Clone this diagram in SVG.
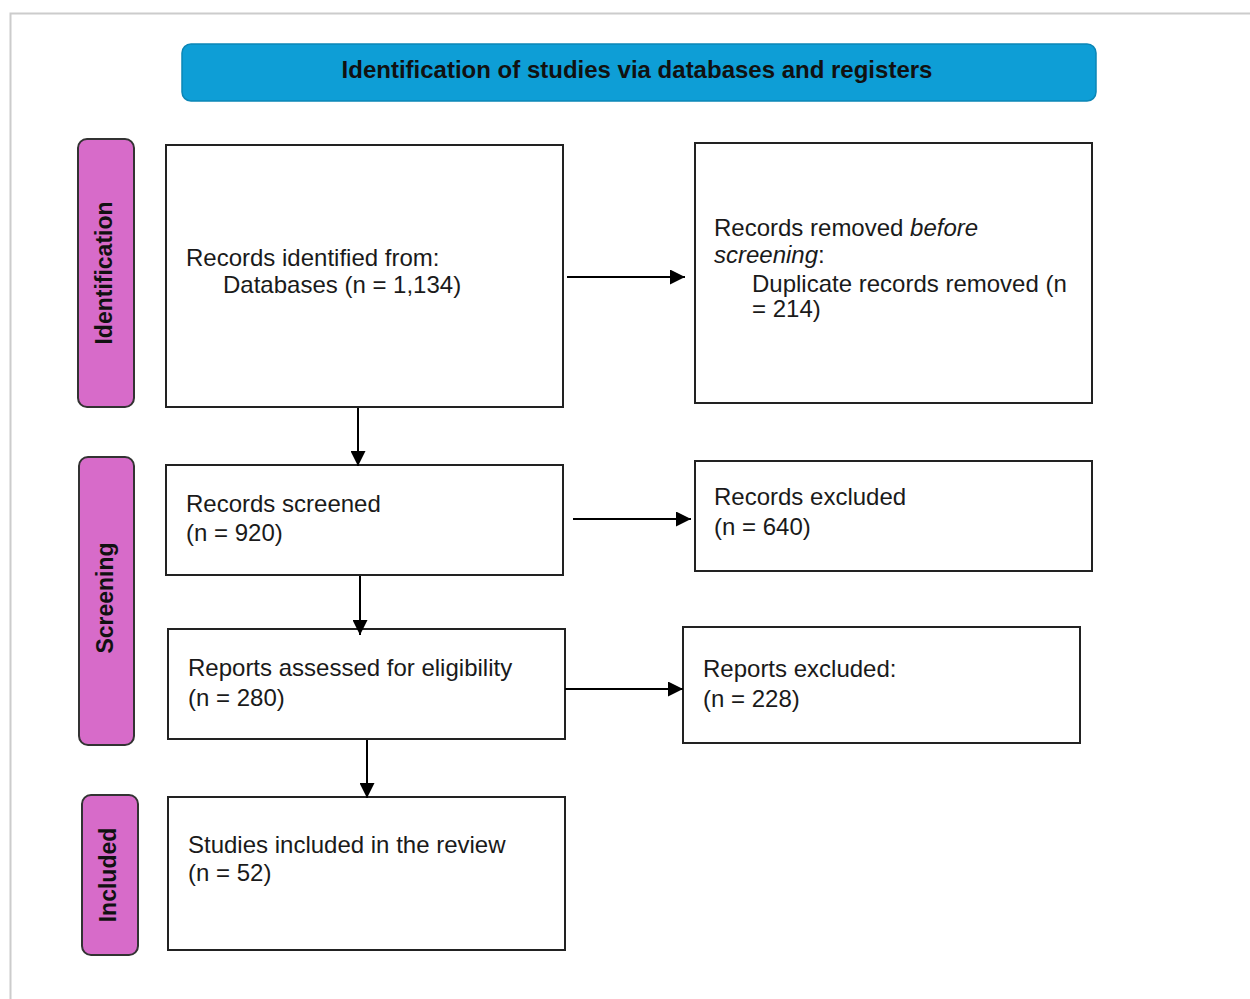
<svg xmlns="http://www.w3.org/2000/svg" width="1250" height="999" viewBox="0 0 1250 999">
<defs>
<style>
.box{fill:#fff;stroke:#222;stroke-width:2}
.side{fill:#d76bc9;stroke:#333;stroke-width:2}
.t{font-family:"Liberation Sans",Arial,sans-serif;font-size:24px;fill:#1a1a1a}
.st{font-family:"Liberation Sans",Arial,sans-serif;font-size:23px;font-weight:bold;fill:#111;text-anchor:middle}
.conn line{stroke:#000;stroke-width:2;marker-end:url(#ah)}
</style>
<marker id="ah" viewBox="0 0 10 10" refX="10" refY="5" markerWidth="7.5" markerHeight="7.5" markerUnits="strokeWidth" orient="auto">
<path d="M0,0 L10,5 L0,10 z" fill="#000"/>
</marker>
</defs>
<rect width="1250" height="999" fill="#fff"/>
<path d="M10.5,999 V13.5 H1250" fill="none" stroke="#cccccc" stroke-width="2"/>

<g id="header">
<rect x="182" y="44" width="914" height="57" rx="9" fill="#0e9ed6" stroke="#0b86b6" stroke-width="1.5"/>
<text x="637" y="78" font-family="'Liberation Sans',Arial,sans-serif" font-size="24px" font-weight="bold" fill="#111" text-anchor="middle">Identification of studies via databases and registers</text>
</g>

<g id="label-identification">
<rect class="side" x="78" y="139" width="56" height="268" rx="9"/>
<text class="st" transform="translate(112,273) rotate(-90)">Identification</text>
</g>
<g id="label-screening">
<rect class="side" x="79" y="457" width="55" height="288" rx="9"/>
<text class="st" transform="translate(113,598) rotate(-90)">Screening</text>
</g>
<g id="label-included">
<rect class="side" x="82" y="795" width="56" height="160" rx="9"/>
<text class="st" transform="translate(116,875) rotate(-90)">Included</text>
</g>

<g id="records-identified">
<rect class="box" x="166" y="145" width="397" height="262"/>
<text class="t" x="186" y="266">Records identified from:</text>
<text class="t" x="223" y="293">Databases (n = 1,134)</text>
</g>
<g id="records-removed">
<rect class="box" x="695" y="143" width="397" height="260"/>
<text class="t" x="714" y="236">Records removed <tspan font-style="italic">before</tspan></text>
<text class="t" x="714" y="263"><tspan font-style="italic">screening</tspan>:</text>
<text class="t" x="752" y="292">Duplicate records removed (n</text>
<text class="t" x="752" y="317">= 214)</text>
</g>
<g id="records-screened">
<rect class="box" x="166" y="465" width="397" height="110"/>
<text class="t" x="186" y="512">Records screened</text>
<text class="t" x="186" y="541">(n = 920)</text>
</g>
<g id="records-excluded">
<rect class="box" x="695" y="461" width="397" height="110"/>
<text class="t" x="714" y="505">Records excluded</text>
<text class="t" x="714" y="535">(n = 640)</text>
</g>
<g id="reports-assessed">
<rect class="box" x="168" y="629" width="397" height="110"/>
<text class="t" x="188" y="676">Reports assessed for eligibility</text>
<text class="t" x="188" y="706">(n = 280)</text>
</g>
<g id="reports-excluded">
<rect class="box" x="683" y="627" width="397" height="116"/>
<text class="t" x="703" y="677">Reports excluded:</text>
<text class="t" x="703" y="707">(n = 228)</text>
</g>
<g id="studies-included">
<rect class="box" x="168" y="797" width="397" height="153"/>
<text class="t" x="188" y="853">Studies included in the review</text>
<text class="t" x="188" y="881">(n = 52)</text>
</g>

<g id="connectors" class="conn">
<line x1="567" y1="277" x2="685" y2="277"/>
<line x1="358" y1="408" x2="358" y2="466"/>
<line x1="573" y1="519" x2="691" y2="519"/>
<line x1="360" y1="576" x2="360" y2="635"/>
<line x1="565" y1="689" x2="683" y2="689"/>
<line x1="367" y1="740" x2="367" y2="798"/>
</g>
</svg>
